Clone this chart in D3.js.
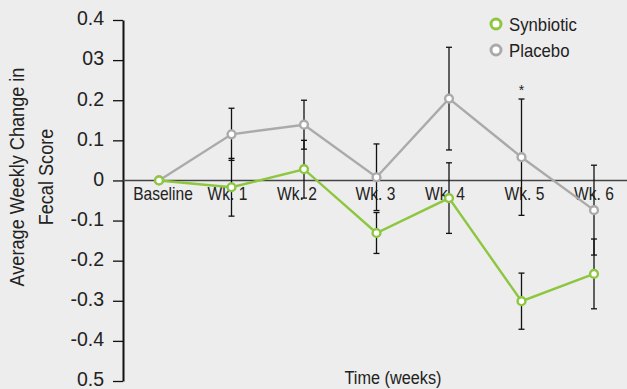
<!DOCTYPE html>
<html>
<head>
<meta charset="utf-8">
<script src="https://cdn.jsdelivr.net/npm/d3@7"></script>
<style>
  html, body { margin: 0; padding: 0; background: #ededed; }
  svg { display: block; }
  text { font-family: "Liberation Sans", Arimo, Arial, sans-serif; fill: #222; }
</style>
</head>
<body>
<svg id="chart" width="627" height="389"></svg>
<script>
// Weekly change in fecal score, mean ± error, per group
const weeks = ["Baseline", "Wk. 1", "Wk. 2", "Wk. 3", "Wk. 4", "Wk. 5", "Wk. 6"];
const synbiotic = [0, -0.017, 0.028, -0.131, -0.044, -0.301, -0.233];
const synbioticErr = [0, 0.072, 0.072, 0.051, 0.088, 0.07, 0.087];
const placebo = [0, 0.115, 0.139, 0.008, 0.204, 0.058, -0.074];
const placeboErr = [0, 0.065, 0.061, 0.083, 0.128, 0.145, 0.112];
const yTickValues = [0.4, 0.3, 0.2, 0.1, 0, -0.1, -0.2, -0.3, -0.4, -0.5];
const yTickLabels = ["0.4", "03", "0.2", "0.1", "0", "-0.1", "-0.2", "-0.3", "-0.4", "0.5"];
const significant = ["Wk. 5"];

const green = "#8dc63f";
const grey = "#aaaaaa";

// small horizontal nudges for the category labels
const labelNudge = [4, -4, -7, -1, -4, 3, 0];

const svg = d3.select("#chart");

const x = d3.scalePoint().domain(weeks).range([159, 594]);
const y = d3.scaleLinear().domain([-0.5, 0.4]).range([381, 20]);
const axisX = 123;

// narrow-set text: draw at (px,py) and squeeze horizontally
function squeeze(sel, k) {
  sel.each(function () {
    const t = d3.select(this);
    const px = +t.attr("x") || 0, py = +t.attr("y") || 0;
    t.attr("x", 0).attr("y", 0)
      .attr("transform", `translate(${px},${py}) scale(${k},1)`);
  });
}

// y axis
const yAxis = d3.axisLeft(y)
  .tickValues(yTickValues)
  .tickFormat((d, i) => yTickLabels[i])
  .tickSizeInner(10)
  .tickSizeOuter(0)
  .tickPadding(9);

const gy = svg.append("g").attr("transform", `translate(${axisX},0)`).call(yAxis);
gy.select(".domain").attr("stroke", "#111").attr("stroke-width", 2);
gy.selectAll(".tick line").attr("stroke", "#111").attr("stroke-width", 1.3);
gy.selectAll(".tick text")
  .style("font-size", "19.5px")
  .attr("dy", "0.25em")
  .attr("fill", "#222");

// zero reference line
svg.append("line")
  .attr("x1", axisX).attr("x2", 627)
  .attr("y1", y(0)).attr("y2", y(0))
  .attr("stroke", "#444").attr("stroke-width", 1.5);

// category labels just below the zero line
svg.append("g").selectAll("text")
  .data(weeks)
  .join("text")
  .attr("x", (d, i) => x(d) + labelNudge[i])
  .attr("y", y(0) + 20)
  .attr("text-anchor", "middle")
  .style("font-size", "17.5px")
  .text(d => d)
  .call(squeeze, 0.89);

// y title
const yTitle = svg.append("text")
  .attr("transform", `translate(0,177) rotate(-90) scale(0.93,1)`)
  .attr("text-anchor", "middle")
  .style("font-size", "19.5px");
yTitle.append("tspan").attr("x", 0).attr("y", 24.5).text("Average Weekly Change in");
yTitle.append("tspan").attr("x", 0).attr("y", 53).text("Fecal Score");

// x title
svg.append("text")
  .attr("x", 393).attr("y", 384)
  .attr("text-anchor", "middle")
  .style("font-size", "18.5px")
  .text("Time (weeks)")
  .call(squeeze, 0.88);

const series = [
  { name: "Synbiotic", values: synbiotic, errs: synbioticErr, color: green },
  { name: "Placebo", values: placebo, errs: placeboErr, color: grey }
];

// error bars
const capHalf = 3;
series.forEach(s => {
  const g = svg.append("g").attr("stroke", "#111").attr("stroke-width", 1.3);
  weeks.forEach((w, i) => {
    const e = s.errs[i];
    if (!e) return;
    const cx = x(w);
    const top = y(s.values[i] + e);
    const bot = y(s.values[i] - e);
    g.append("line").attr("x1", cx).attr("x2", cx).attr("y1", top).attr("y2", bot);
    g.append("line").attr("x1", cx - capHalf).attr("x2", cx + capHalf).attr("y1", top).attr("y2", top);
    g.append("line").attr("x1", cx - capHalf).attr("x2", cx + capHalf).attr("y1", bot).attr("y2", bot);
  });
});

// significance marker
significant.forEach(w => {
  const i = weeks.indexOf(w);
  svg.append("text")
    .attr("x", x(w))
    .attr("y", y(placebo[i] + placeboErr[i]) - 4)
    .attr("text-anchor", "middle")
    .style("font-size", "14px")
    .text("*");
});

// lines and markers
const line = d3.line().x((d, i) => x(weeks[i])).y(d => y(d));
[series[1], series[0]].forEach(s => {
  svg.append("path")
    .datum(s.values)
    .attr("fill", "none")
    .attr("stroke", s.color)
    .attr("stroke-width", 2.4)
    .attr("d", line);
});
[series[1], series[0]].forEach(s => {
  svg.append("g").selectAll("circle")
    .data(s.values)
    .join("circle")
    .attr("cx", (d, i) => x(weeks[i]))
    .attr("cy", d => y(d))
    .attr("r", 3.9)
    .attr("fill", "#fff")
    .attr("stroke", s.color)
    .attr("stroke-width", 2.4);
});

// legend
const legend = svg.append("g").attr("transform", "translate(496,24)");
series.forEach((s, i) => {
  const row = legend.append("g").attr("transform", `translate(0,${i * 26})`);
  row.append("circle").attr("r", 5).attr("fill", "#fff")
    .attr("stroke", s.color).attr("stroke-width", 3);
  row.append("text").attr("x", 13).attr("y", 6.5)
    .style("font-size", "18px")
    .text(s.name)
    .call(squeeze, 0.93);
});
</script>
</body>
</html>
